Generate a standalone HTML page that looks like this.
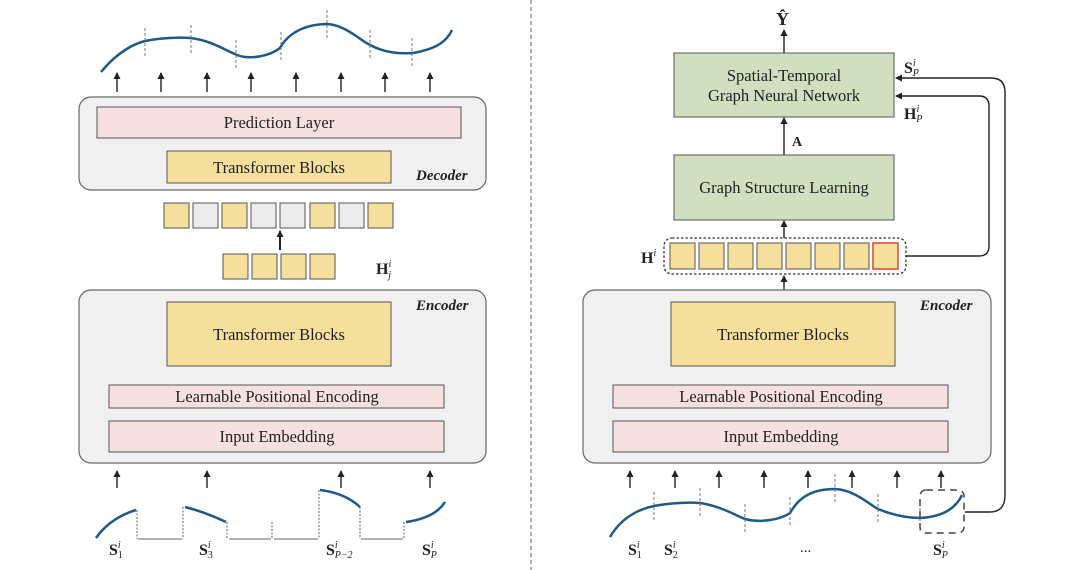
<!DOCTYPE html>
<html><head><meta charset="utf-8"><style>
body{margin:0;background:#fff}
svg{display:block}
text{font-family:"Liberation Serif",serif;fill:#222}
.t{font-size:16.5px;text-anchor:middle}
.b{font-weight:bold}
</style></head><body>
<svg width="1080" height="570" viewBox="0 0 1080 570" xmlns="http://www.w3.org/2000/svg">
<defs>
<marker id="a" markerWidth="8" markerHeight="8" refX="6" refY="4" orient="auto" markerUnits="userSpaceOnUse"><path d="M0,0.5 L7,4 L0,7.5 Z" fill="#222"/></marker>
</defs>
<g stroke="#222" stroke-width="1.4" fill="none" marker-end="url(#a)">
<line x1="117" y1="92" x2="117" y2="73"/><line x1="161" y1="92" x2="161" y2="73"/><line x1="207" y1="92" x2="207" y2="73"/><line x1="251" y1="92" x2="251" y2="73"/><line x1="296" y1="92" x2="296" y2="73"/><line x1="341" y1="92" x2="341" y2="73"/><line x1="385" y1="92" x2="385" y2="73"/><line x1="430" y1="92" x2="430" y2="73"/>
<line x1="280" y1="151" x2="280" y2="139"/>
<line x1="280" y1="250" x2="280" y2="231" stroke-width="2"/>
<line x1="280" y1="385" x2="280" y2="367"/>
<line x1="280" y1="421" x2="280" y2="409"/>
<line x1="117" y1="488" x2="117" y2="471"/><line x1="207" y1="488" x2="207" y2="471"/><line x1="341" y1="488" x2="341" y2="471"/><line x1="430" y1="488" x2="430" y2="471"/>
<line x1="784" y1="53" x2="784" y2="30"/>
<line x1="784" y1="155" x2="784" y2="118"/>
<line x1="784" y1="238" x2="784" y2="221"/>
<line x1="784" y1="290" x2="784" y2="276"/>
<line x1="784" y1="385" x2="784" y2="367"/>
<line x1="784" y1="421" x2="784" y2="409"/>
<line x1="630" y1="488" x2="630" y2="471"/><line x1="675" y1="488" x2="675" y2="471"/><line x1="719" y1="488" x2="719" y2="471"/><line x1="764" y1="488" x2="764" y2="471"/><line x1="808" y1="488" x2="808" y2="471"/><line x1="852" y1="488" x2="852" y2="471"/><line x1="897" y1="488" x2="897" y2="471"/><line x1="941" y1="488" x2="941" y2="471"/>
<path d="M906,256 L979,256 Q989,256 989,246 L989,106 Q989,96 979,96 L896,96"/>
<path d="M965,512 L990,512 Q1005,512 1005,495 L1005,92 Q1005,78 991,78 L896,78"/>
</g>
<line x1="531" y1="0" x2="531" y2="570" stroke="#777" stroke-width="1.2" stroke-dasharray="4,3"/>
<rect x="79" y="97" width="407" height="93" rx="12" fill="#f0f0f0" stroke="#666" stroke-width="1.2"/>
<rect x="97" y="107" width="364" height="31" fill="#f6e0e0" stroke="#555"/>
<text class="t" x="279" y="128">Prediction Layer</text>
<rect x="167" y="151" width="224" height="32" fill="#f5df9c" stroke="#555"/>
<text class="t" x="279" y="173">Transformer Blocks</text>
<text x="416" y="180" font-size="15" font-weight="bold" font-style="italic">Decoder</text>
<g stroke="#555" stroke-width="1">
<rect x="164" y="203" width="25" height="25" fill="#f5df9c"/><rect x="193" y="203" width="25" height="25" fill="#ececec"/><rect x="222" y="203" width="25" height="25" fill="#f5df9c"/><rect x="251" y="203" width="25" height="25" fill="#ececec"/><rect x="280" y="203" width="25" height="25" fill="#ececec"/><rect x="310" y="203" width="25" height="25" fill="#f5df9c"/><rect x="339" y="203" width="25" height="25" fill="#ececec"/><rect x="368" y="203" width="25" height="25" fill="#f5df9c"/>
<rect x="223" y="254" width="25" height="25" fill="#f5df9c"/><rect x="252" y="254" width="25" height="25" fill="#f5df9c"/><rect x="281" y="254" width="25" height="25" fill="#f5df9c"/><rect x="310" y="254" width="25" height="25" fill="#f5df9c"/>
</g>
<text x="376" y="274" font-size="16" class="b">H<tspan font-size="10" dy="-7" font-style="italic" font-weight="normal">i</tspan><tspan font-size="10" dx="-3" dy="11" font-style="italic" font-weight="normal">j</tspan></text>
<path d="M101,72 C115,55 130,45 145,41 C160,38 180,37 190,38 C210,40 225,50 237,55 C250,60 270,56 280,48 C290,30 310,24 327,24 C345,25 360,40 370,45 C385,53 400,54 413,53 C430,50 445,45 452,30" fill="none" stroke="#1d5a86" stroke-width="2.5"/>
<g stroke="#777" stroke-width="1" stroke-dasharray="3,2">
<line x1="145" y1="28" x2="145" y2="58"/><line x1="191" y1="25" x2="191" y2="55"/><line x1="236" y1="40" x2="236" y2="70"/><line x1="281" y1="32" x2="281" y2="62"/><line x1="327" y1="10" x2="327" y2="40"/><line x1="370" y1="30" x2="370" y2="60"/><line x1="412" y1="38" x2="412" y2="68"/>
</g>
<rect x="79" y="290" width="407" height="173" rx="12" fill="#f0f0f0" stroke="#666" stroke-width="1.2"/>
<text x="416" y="310" font-size="15" font-weight="bold" font-style="italic">Encoder</text>
<rect x="167" y="302" width="224" height="64" fill="#f5df9c" stroke="#555"/>
<text class="t" x="279" y="340">Transformer Blocks</text>
<rect x="109" y="385" width="335" height="23" fill="#f6e0e0" stroke="#555"/>
<text class="t" x="277" y="402">Learnable Positional Encoding</text>
<rect x="109" y="421" width="335" height="31" fill="#f6e0e0" stroke="#555"/>
<text class="t" x="277" y="442">Input Embedding</text>
<g fill="none" stroke="#1d5a86" stroke-width="2.5">
<path d="M96,538 Q110,518 136,510"/><path d="M185,507 Q205,512 226,522"/><path d="M320,490 Q345,493 360,507"/><path d="M406,522 Q435,518 445,502"/>
</g>
<g stroke="#666" stroke-width="1" fill="none">
<path d="M138,539 L182,539 M229,539 L271,539 M274,539 L318,539 M361,539 L403,539"/>
<path d="M137,510 L137,539 M183,507 L183,539 M227,522 L227,539 M272,522 L272,539 M319,490 L319,539 M360,507 L360,539 M404,522 L404,539" stroke-dasharray="2,1.5"/>
</g>
<text x="109" y="555" font-size="16" class="b">S<tspan font-size="10" dy="-7" font-style="italic" font-weight="normal">i</tspan><tspan font-size="10" dx="-3" dy="10" font-weight="normal">1</tspan></text>
<text x="199" y="555" font-size="16" class="b">S<tspan font-size="10" dy="-7" font-style="italic" font-weight="normal">i</tspan><tspan font-size="10" dx="-3" dy="10" font-weight="normal">3</tspan></text>
<text x="326" y="555" font-size="16" class="b">S<tspan font-size="10" dy="-7" font-style="italic" font-weight="normal">i</tspan><tspan font-size="10" dx="-3" dy="10" font-style="italic" font-weight="normal">P−2</tspan></text>
<text x="422" y="555" font-size="16" class="b">S<tspan font-size="10" dy="-7" font-style="italic" font-weight="normal">i</tspan><tspan font-size="10" dx="-3" dy="10" font-style="italic" font-weight="normal">P</tspan></text>
<text x="776" y="25" font-size="18" class="b">Ŷ</text>
<rect x="674" y="53" width="220" height="64" fill="#cfdfc0" stroke="#555"/>
<text class="t" x="784" y="81">Spatial-Temporal</text>
<text class="t" x="784" y="101">Graph Neural Network</text>
<text x="792" y="146" font-size="14" class="b">A</text>
<rect x="674" y="155" width="220" height="65" fill="#cfdfc0" stroke="#555"/>
<text class="t" x="784" y="193">Graph Structure Learning</text>
<text x="904" y="73" font-size="16" class="b">S<tspan font-size="10" dy="-7" font-style="italic" font-weight="normal">i</tspan><tspan font-size="10" dx="-3" dy="10" font-style="italic" font-weight="normal">P</tspan></text>
<text x="904" y="119" font-size="16" class="b">H<tspan font-size="10" dy="-7" font-style="italic" font-weight="normal">i</tspan><tspan font-size="10" dx="-3" dy="10" font-style="italic" font-weight="normal">P</tspan></text>
<rect x="664" y="238" width="242" height="36" rx="8" fill="none" stroke="#333" stroke-width="1.3" stroke-dasharray="2.5,2"/>
<g stroke="#555" stroke-width="1" fill="#f5df9c">
<rect x="670" y="243" width="25" height="26"/><rect x="699" y="243" width="25" height="26"/><rect x="728" y="243" width="25" height="26"/><rect x="757" y="243" width="25" height="26"/><rect x="786" y="243" width="25" height="26"/><rect x="815" y="243" width="25" height="26"/><rect x="844" y="243" width="25" height="26"/><rect x="873" y="243" width="25" height="26" stroke="#e0503c" stroke-width="1.6"/>
</g>
<text x="641" y="263" font-size="16" class="b">H<tspan font-size="10" dy="-7" font-style="italic" font-weight="normal">i</tspan></text>
<rect x="583" y="290" width="408" height="173" rx="12" fill="#f0f0f0" stroke="#666" stroke-width="1.2"/>
<text x="920" y="310" font-size="15" font-weight="bold" font-style="italic">Encoder</text>
<rect x="671" y="302" width="224" height="64" fill="#f5df9c" stroke="#555"/>
<text class="t" x="783" y="340">Transformer Blocks</text>
<rect x="613" y="385" width="335" height="23" fill="#f6e0e0" stroke="#555"/>
<text class="t" x="781" y="402">Learnable Positional Encoding</text>
<rect x="613" y="421" width="335" height="31" fill="#f6e0e0" stroke="#555"/>
<text class="t" x="781" y="442">Input Embedding</text>
<path d="M610,537 C620,520 635,510 654,506 C670,503 690,502 700,503 C720,506 735,515 745,519 C760,523 780,520 790,513 C800,495 815,489 835,489 C855,490 870,505 878,509 C895,516 910,518 920,518 C940,517 955,510 962,495" fill="none" stroke="#1d5a86" stroke-width="2.5"/>
<g stroke="#777" stroke-width="1" stroke-dasharray="3,2">
<line x1="654" y1="492" x2="654" y2="522"/><line x1="700" y1="488" x2="700" y2="518"/><line x1="745" y1="504" x2="745" y2="534"/><line x1="790" y1="497" x2="790" y2="527"/><line x1="835" y1="474" x2="835" y2="504"/><line x1="878" y1="494" x2="878" y2="524"/><line x1="920" y1="503" x2="920" y2="533"/>
</g>
<rect x="920" y="490" width="44" height="43" rx="6" fill="none" stroke="#444" stroke-width="1.5" stroke-dasharray="7,5"/>
<text x="628" y="555" font-size="16" class="b">S<tspan font-size="10" dy="-7" font-style="italic" font-weight="normal">i</tspan><tspan font-size="10" dx="-3" dy="10" font-weight="normal">1</tspan></text>
<text x="664" y="555" font-size="16" class="b">S<tspan font-size="10" dy="-7" font-style="italic" font-weight="normal">i</tspan><tspan font-size="10" dx="-3" dy="10" font-weight="normal">2</tspan></text>
<text x="800" y="552" font-size="15">...</text>
<text x="933" y="555" font-size="16" class="b">S<tspan font-size="10" dy="-7" font-style="italic" font-weight="normal">i</tspan><tspan font-size="10" dx="-3" dy="10" font-style="italic" font-weight="normal">P</tspan></text>
</svg>
</body></html>
